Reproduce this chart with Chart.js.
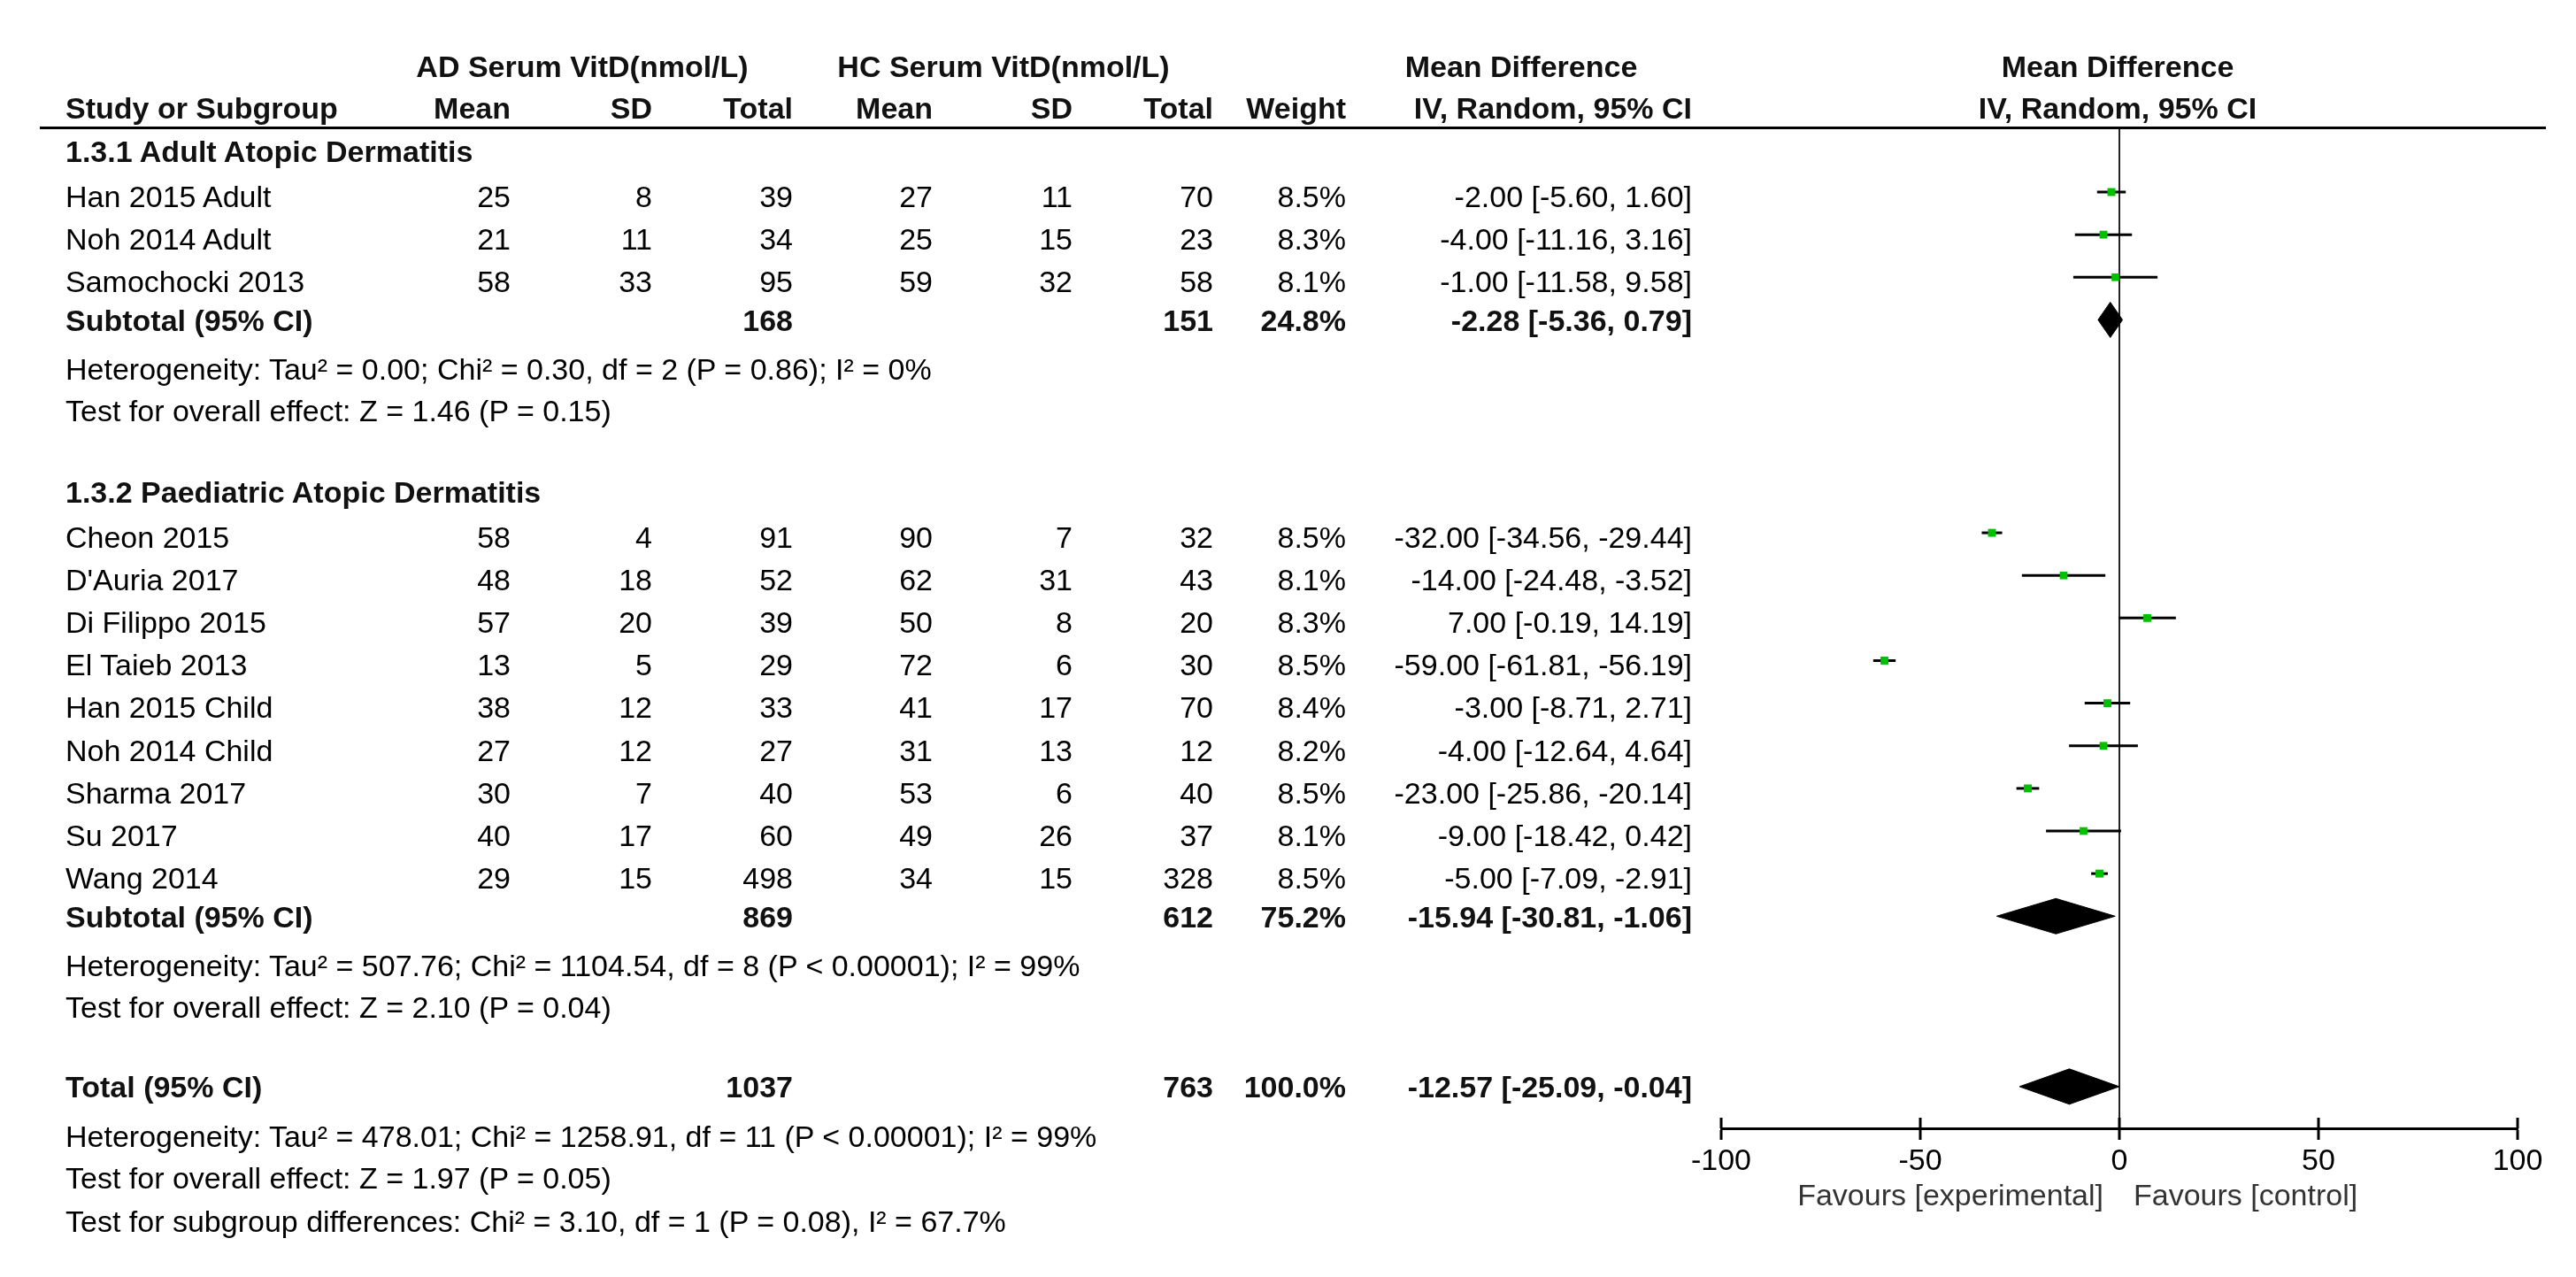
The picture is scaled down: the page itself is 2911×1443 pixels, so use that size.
<!DOCTYPE html>
<html>
<head>
<meta charset="utf-8">
<title>Serum vitamin D forest plot</title>
<script src="https://cdn.jsdelivr.net/npm/chart.js"></script>
<style>
  html, body { margin: 0; padding: 0; background: #fff; }
  #wrap { position: relative; width: 2911px; height: 1443px; overflow: hidden;
          font-family: "Liberation Sans", Arial, sans-serif; font-size: 34px; color: #000; }
  #plot { position: absolute; left: 0; top: 0; }
  .t { position: absolute; white-space: nowrap; line-height: 40px; height: 40px; }
  .b { font-weight: bold; color: #111; }
  .r { transform: translateX(-100%); }
  .c { transform: translateX(-50%); }
  .g { color: #333; }
  #rule { position: absolute; left: 45px; width: 2832px; top: 143px; height: 3px; background: #000; }
</style>
</head>
<body>
<div id="wrap">
  <canvas id="plot" width="2911" height="1443"></canvas>
  <div id="rule"></div>
</div>
<script>
  // --- study level data ---
  const studies = ['Han 2015 Adult', 'Noh 2014 Adult', 'Samochocki 2013',
    'Cheon 2015', "D'Auria 2017", 'Di Filippo 2015', 'El Taieb 2013', 'Han 2015 Child',
    'Noh 2014 Child', 'Sharma 2017', 'Su 2017', 'Wang 2014'];
  const studyGroup = [0, 0, 0, 1, 1, 1, 1, 1, 1, 1, 1, 1];
  const adMean  = [25, 21, 58, 58, 48, 57, 13, 38, 27, 30, 40, 29];
  const adSD    = [8, 11, 33, 4, 18, 20, 5, 12, 12, 7, 17, 15];
  const adTotal = [39, 34, 95, 91, 52, 39, 29, 33, 27, 40, 60, 498];
  const hcMean  = [27, 25, 59, 90, 62, 50, 72, 41, 31, 53, 49, 34];
  const hcSD    = [11, 15, 32, 7, 31, 8, 6, 17, 13, 6, 26, 15];
  const hcTotal = [70, 23, 58, 32, 43, 20, 30, 70, 12, 40, 37, 328];
  const weight  = [8.5, 8.3, 8.1, 8.5, 8.1, 8.3, 8.5, 8.4, 8.2, 8.5, 8.1, 8.5];
  const md      = [-2.00, -4.00, -1.00, -32.00, -14.00, 7.00, -59.00, -3.00, -4.00, -23.00, -9.00, -5.00];
  const ciLow   = [-5.60, -11.16, -11.58, -34.56, -24.48, -0.19, -61.81, -8.71, -12.64, -25.86, -18.42, -7.09];
  const ciHigh  = [1.60, 3.16, 9.58, -29.44, -3.52, 14.19, -56.19, 2.71, 4.64, -20.14, 0.42, -2.91];

  // --- subgroup / overall data ---
  const groupNames = ['1.3.1 Adult Atopic Dermatitis', '1.3.2 Paediatric Atopic Dermatitis'];
  const pooledLabel   = ['Subtotal (95% CI)', 'Subtotal (95% CI)', 'Total (95% CI)'];
  const pooledAdTotal = [168, 869, 1037];
  const pooledHcTotal = [151, 612, 763];
  const pooledWeight  = [24.8, 75.2, 100.0];
  const pooledMd      = [-2.28, -15.94, -12.57];
  const pooledLow     = [-5.36, -30.81, -25.09];
  const pooledHigh    = [0.79, -1.06, -0.04];
  const pooledNotes = [
    ['Heterogeneity: Tau² = 0.00; Chi² = 0.30, df = 2 (P = 0.86); I² = 0%',
     'Test for overall effect: Z = 1.46 (P = 0.15)'],
    ['Heterogeneity: Tau² = 507.76; Chi² = 1104.54, df = 8 (P < 0.00001); I² = 99%',
     'Test for overall effect: Z = 2.10 (P = 0.04)'],
    ['Heterogeneity: Tau² = 478.01; Chi² = 1258.91, df = 11 (P < 0.00001); I² = 99%',
     'Test for overall effect: Z = 1.97 (P = 0.05)',
     'Test for subgroup differences: Chi² = 3.10, df = 1 (P = 0.08), I² = 67.7%']
  ];
  const xTicks = [-100, -50, 0, 50, 100];

  // row layout (one unit = one table row)
  const groupStart = [0, 8];
  const pooledRow = [3, 17, 21];
  const studyRow = studies.map((s, i) =>
    groupStart[studyGroup[i]] + studyGroup.slice(0, i).filter(g => g === studyGroup[i]).length);
  const DIAMOND_H = 0.415;

  const fmtCI = (m, lo, hi) => m.toFixed(2) + ' [' + lo.toFixed(2) + ', ' + hi.toFixed(2) + ']';

  const datasets = [];
  datasets.push({
    type: 'scatter',
    data: studies.map((s, i) => ({ x: md[i], y: studyRow[i] })),
    pointStyle: 'rect',
    pointRadius: weight.map(w => 6.3 * Math.sqrt(w / 8.5)),
    backgroundColor: '#00c000',
    borderWidth: 0
  });
  studies.forEach((s, i) => {
    datasets.push({
      type: 'line',
      data: [{ x: ciLow[i], y: studyRow[i] }, { x: ciHigh[i], y: studyRow[i] }],
      borderColor: '#000', borderWidth: 3, pointRadius: 0, fill: false
    });
  });
  pooledMd.forEach((m, j) => {
    const r = pooledRow[j];
    datasets.push({
      type: 'line',
      data: [{ x: pooledLow[j], y: r }, { x: m, y: r - DIAMOND_H }, { x: pooledHigh[j], y: r }],
      borderColor: '#000', borderWidth: 1, pointRadius: 0, fill: false
    });
    datasets.push({
      type: 'line',
      data: [{ x: pooledLow[j], y: r }, { x: m, y: r + DIAMOND_H }, { x: pooledHigh[j], y: r }],
      borderColor: '#000', borderWidth: 1, pointRadius: 0,
      fill: '-1', backgroundColor: '#000'
    });
  });

  // small tick marks above the axis line as well as below
  const tickUp = {
    id: 'tickUp',
    afterDraw(chart) {
      const sx = chart.scales.x, ctx = chart.ctx;
      ctx.save();
      ctx.strokeStyle = '#000';
      ctx.lineWidth = 3;
      sx.ticks.forEach(t => {
        const px = sx.getPixelForValue(t.value);
        ctx.beginPath();
        ctx.moveTo(px, sx.top);
        ctx.lineTo(px, sx.top - 12);
        ctx.stroke();
      });
      ctx.restore();
    }
  };

  const chart = new Chart(document.getElementById('plot'), {
    type: 'scatter',
    data: { datasets: datasets },
    plugins: [tickUp],
    options: {
      responsive: false,
      animation: false,
      devicePixelRatio: 1,
      events: [],
      layout: { padding: { left: 1945, right: 66, top: 145, bottom: 68 } },
      plugins: { legend: { display: false }, tooltip: { enabled: false } },
      scales: {
        x: {
          type: 'linear', min: -100, max: 100,
          afterBuildTicks: s => { s.ticks = xTicks.map(v => ({ value: v })); },
          afterFit: s => { s.height = 100; },
          border: { color: '#000', width: 3 },
          grid: {
            color: c => (c.tick && c.tick.value === 0) ? '#222' : 'rgba(0,0,0,0)',
            lineWidth: 2, tickColor: '#000', tickWidth: 3, tickLength: 13
          },
          ticks: {
            color: '#000', padding: 4, maxRotation: 0,
            font: { family: '"Liberation Sans", Arial, sans-serif', size: 34 }
          }
        },
        y: {
          type: 'linear', display: false, reverse: true,
          min: -1.496, max: 21.98
        }
      }
    }
  });

  // --- table text, placed on the chart's own row scale ---
  const wrap = document.getElementById('wrap');
  const ys = chart.scales.y;
  const COL = { study: 74, adMean: 577, adSD: 737, adTotal: 896, hcMean: 1054, hcSD: 1212,
                hcTotal: 1371, weight: 1521, md: 1912 };

  function put(text, x, row, align, cls) {
    const d = document.createElement('div');
    d.className = 't ' + (align || '') + ' ' + (cls || '');
    d.textContent = text;
    d.style.left = x + 'px';
    d.style.top = (ys.getPixelForValue(row) - 20) + 'px';
    wrap.appendChild(d);
  }

  // headers
  put('AD Serum VitD(nmol/L)', 658, -2.95, 'c', 'b');
  put('HC Serum VitD(nmol/L)', 1134, -2.95, 'c', 'b');
  put('Mean Difference', 1719, -2.95, 'c', 'b');
  put('Mean Difference', 2393, -2.95, 'c', 'b');
  put('Study or Subgroup', COL.study, -1.974, '', 'b');
  put('Mean', COL.adMean, -1.974, 'r', 'b');
  put('SD', COL.adSD, -1.974, 'r', 'b');
  put('Total', COL.adTotal, -1.974, 'r', 'b');
  put('Mean', COL.hcMean, -1.974, 'r', 'b');
  put('SD', COL.hcSD, -1.974, 'r', 'b');
  put('Total', COL.hcTotal, -1.974, 'r', 'b');
  put('Weight', COL.weight, -1.974, 'r', 'b');
  put('IV, Random, 95% CI', COL.md, -1.974, 'r', 'b');
  put('IV, Random, 95% CI', 2393, -1.974, 'c', 'b');

  groupNames.forEach((g, j) => put(g, COL.study, groupStart[j] - 0.96, '', 'b'));

  studies.forEach((s, i) => {
    const r = studyRow[i] + 0.1;
    put(s, COL.study, r);
    put(String(adMean[i]), COL.adMean, r, 'r');
    put(String(adSD[i]), COL.adSD, r, 'r');
    put(String(adTotal[i]), COL.adTotal, r, 'r');
    put(String(hcMean[i]), COL.hcMean, r, 'r');
    put(String(hcSD[i]), COL.hcSD, r, 'r');
    put(String(hcTotal[i]), COL.hcTotal, r, 'r');
    put(weight[i].toFixed(1) + '%', COL.weight, r, 'r');
    put(fmtCI(md[i], ciLow[i], ciHigh[i]), COL.md, r, 'r');
  });

  const noteOffset = [1.16, 2.14, 3.17];
  pooledLabel.forEach((p, j) => {
    const r = pooledRow[j] + 0.01;
    put(p, COL.study, r, '', 'b');
    put(String(pooledAdTotal[j]), COL.adTotal, r, 'r', 'b');
    put(String(pooledHcTotal[j]), COL.hcTotal, r, 'r', 'b');
    put(pooledWeight[j].toFixed(1) + '%', COL.weight, r, 'r', 'b');
    put(fmtCI(pooledMd[j], pooledLow[j], pooledHigh[j]), COL.md, r, 'r', 'b');
    pooledNotes[j].forEach((n, k) => put(n, COL.study, pooledRow[j] + noteOffset[k]));
  });

  // favours labels under the axis
  const sx = chart.scales.x;
  const zero = sx.getPixelForValue(0);
  const favY = sx.top + 75;
  [['Favours [experimental]', zero - 18, 'r'], ['Favours [control]', zero + 16, '']].forEach(f => {
    const d = document.createElement('div');
    d.className = 't g ' + f[2];
    d.textContent = f[0];
    d.style.left = f[1] + 'px';
    d.style.top = (favY - 20) + 'px';
    wrap.appendChild(d);
  });
</script>
</body>
</html>
